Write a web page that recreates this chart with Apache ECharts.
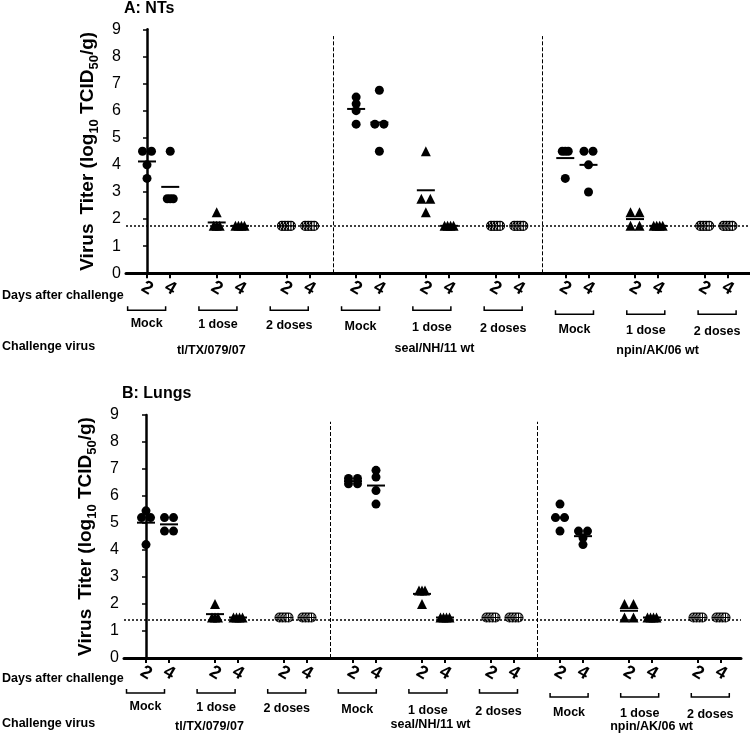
<!DOCTYPE html>
<html><head><meta charset="utf-8">
<script src="https://cdn.jsdelivr.net/npm/echarts@6/dist/echarts.min.js"></script>
<style>html,body{margin:0;padding:0;background:#fff}#c{width:750px;height:742px}</style>
</head><body><div id="c"></div>
<script>
// ---------- data ----------
const viruses = ['tl/TX/079/07', 'seal/NH/11 wt', 'npin/AK/06 wt'];
const treatments = ['Mock', '1 dose', '2 doses'];
const days = ['2', '4'];
const yTicks = [0, 1, 2, 3, 4, 5, 6, 7, 8, 9];
const panelTitles = ['A: NTs', 'B: Lungs'];

// groups in order: Mock d2, Mock d4, 1 dose d2, 1 dose d4, 2 doses d2, 2 doses d4
const ntsTl   = [[4.5, 4.5, 4.0, 3.5], [4.5, 2.75, 2.75, 2.75], [2.25, 1.75, 1.75, 1.75], [1.75, 1.75, 1.75, 1.75], [1.75, 1.75, 1.75, 1.75], [1.75, 1.75, 1.75, 1.75]];
const ntsSeal = [[6.25, 6.5, 6.0, 5.5], [6.75, 5.5, 5.5, 4.5], [4.5, 2.75, 2.75, 2.25], [1.75, 1.75, 1.75, 1.75], [1.75, 1.75, 1.75, 1.75], [1.75, 1.75, 1.75, 1.75]];
const ntsNpin = [[4.5, 4.5, 4.5, 3.5], [4.5, 4.5, 4.0, 3.0], [2.25, 2.25, 1.75, 1.75], [1.75, 1.75, 1.75, 1.75], [1.75, 1.75, 1.75, 1.75], [1.75, 1.75, 1.75, 1.75]];
const lungTl   = [[5.2, 5.2, 5.45, 4.2], [5.2, 5.2, 4.7, 4.7], [2.0, 1.5, 1.5, 1.5], [1.5, 1.5, 1.5, 1.5], [1.5, 1.5, 1.5, 1.5], [1.5, 1.5, 1.5, 1.5]];
const lungSeal = [[6.65, 6.65, 6.45, 6.45], [6.7, 6.95, 6.2, 5.7], [2.5, 2.5, 2.5, 2.0], [1.5, 1.5, 1.5, 1.5], [1.5, 1.5, 1.5, 1.5], [1.5, 1.5, 1.5, 1.5]];
const lungNpin = [[5.7, 5.2, 5.2, 4.7], [4.7, 4.7, 4.45, 4.2], [2.0, 2.0, 1.5, 1.5], [1.5, 1.5, 1.5, 1.5], [1.5, 1.5, 1.5, 1.5], [1.5, 1.5, 1.5, 1.5]];
const ntsDetectionLimit = 1.75;
const lungDetectionLimit = 1.42;
const separatorTop = 8.75;

// ---------- layout ----------
const FONT = '"Liberation Sans", Arial, Helvetica, sans-serif';
const panels = [
  { data: [ntsTl, ntsSeal, ntsNpin], lod: ntsDetectionLimit,
    grid: { left: 126, top: 29.3, width: 624, height: 244 }, xMin: -0.904, xMax: 25.95,
    off: { days: 22, bracket: 37, treat: 50, cv: 73, virus: 77 } },
  { data: [lungTl, lungSeal, lungNpin], lod: lungDetectionLimit,
    grid: { left: 124, top: 415, width: 617, height: 243 }, xMin: -0.957, xMax: 25.87,
    off: { days: 21, bracket: 35, treat: 49, cv: 66, virus: 69 } }
];

const HATCH = 'path://M5,0A5,5,0,1,1,5,10A5,5,0,1,1,5,0ZM5,0L5,10M0,5L10,5M2.2,1L2.2,9M7.8,1L7.8,9';
const symbolFor = ['circle', 'triangle', HATCH];

function spread(vals, unitPx) {
  const out = vals.map(() => 0);
  const groups = {};
  vals.forEach((v, i) => { const k = v.toFixed(2); (groups[k] = groups[k] || []).push(i); });
  Object.values(groups).forEach(idx => {
    const n = idx.length; if (n < 2) return;
    const sp = (n === 2 ? 9 : 3) / unitPx;
    idx.forEach((i, j) => { out[i] = (j - (n - 1) / 2) * sp; });
  });
  return out;
}

const grids = [], xAxes = [], yAxes = [], series = [];
panels.forEach((p, pi) => {
  grids.push(p.grid);
  const unitPx = p.grid.width / (p.xMax - p.xMin);
  const positions = [];
  const sym = [[], [], []];
  const means = [];
  p.data.forEach((groupsArr, v) => {
    groupsArr.forEach((vals, k) => {
      const t = Math.floor(k / 2), d = k % 2;
      const pos = (v * 3 + t) * 3 + d;
      positions.push(pos);
      const offs = spread(vals, unitPx);
      vals.forEach((y, i) => sym[t].push([pos + offs[i], y]));
      means.push([pos, vals.reduce((a, b) => a + b, 0) / vals.length]);
    });
  });
  xAxes.push({
    type: 'value', gridIndex: pi, min: p.xMin, max: p.xMax,
    splitLine: { show: false },
    axisLine: { show: true, lineStyle: { color: '#000', width: 3 } },
    axisTick: { show: true, customValues: positions, length: 5, lineStyle: { color: '#000', width: 2 } },
    axisLabel: {
      show: true, customValues: positions, rotate: -30, margin: 15,
      align: 'center', verticalAlign: 'middle',
      fontFamily: FONT, fontSize: 18, fontWeight: 'bold', color: '#000',
      formatter: v => days[Math.round(v) % 3]
    }
  });
  yAxes.push({
    type: 'value', gridIndex: pi, min: yTicks[0], max: yTicks[yTicks.length - 1], interval: 1,
    splitLine: { show: false },
    axisLine: { show: true, lineStyle: { color: '#000', width: 2.5 } },
    axisTick: { show: true, length: 4, lineStyle: { color: '#000', width: 1.5 } },
    axisLabel: { fontFamily: FONT, fontSize: 16, color: '#000', margin: 5 },
    name: '{a|Virus}{g| }{a|Titer (log}{s|10}{a| TCID}{s|50}{a|/g)}',
    nameLocation: 'middle', nameRotate: 90, nameGap: 23,
    nameTextStyle: {
      rich: {
        a: { fontFamily: FONT, fontSize: 19, fontWeight: 'bold', color: '#000', lineHeight: 26 },
        g: { fontFamily: FONT, fontSize: 19, width: 9, lineHeight: 26 },
        s: { fontFamily: FONT, fontSize: 13, fontWeight: 'bold', color: '#000', verticalAlign: 'bottom', lineHeight: 14 }
      }
    }
  });
  series.push({
    type: 'scatter', xAxisIndex: pi, yAxisIndex: pi, data: means, symbol: 'rect', symbolSize: [18, 2],
    itemStyle: { color: '#000', opacity: 1 }, silent: true, z: 2,
    markLine: {
      silent: true, symbol: ['none', 'none'], label: { show: false }, animation: false,
      data: [
        { yAxis: p.lod, lineStyle: { color: '#000', type: [2, 2], width: 1.5, opacity: 1 } },
        [{ coord: [8, 0] }, { coord: [8, separatorTop], lineStyle: { color: '#000', type: [4, 2], width: 1, opacity: 1 } }],
        [{ coord: [17, 0] }, { coord: [17, separatorTop], lineStyle: { color: '#000', type: [4, 2], width: 1, opacity: 1 } }]
      ]
    }
  });
  sym.forEach((pts, t) => {
    series.push({
      type: 'scatter', xAxisIndex: pi, yAxisIndex: pi, data: pts,
      symbol: symbolFor[t], symbolSize: t === 1 ? 10 : 9, silent: true, z: 3,
      itemStyle: t === 2 ? { color: '#fff', borderColor: '#000', borderWidth: 1.1, opacity: 1 } : { color: '#000', opacity: 1 }
    });
  });
});

const chart = echarts.init(document.getElementById('c'), null, { renderer: 'canvas' });
chart.setOption({
  animation: false, backgroundColor: '#fff',
  grid: grids, xAxis: xAxes, yAxis: yAxes, series: series
});

// ---------- annotations ----------
const gfx = [];
function txt(text, x, y, size, align) {
  gfx.push({ type: 'text', x: x, y: y, silent: true,
    style: { text: text, fill: '#000', fontFamily: FONT, fontSize: size, fontWeight: 'bold',
      align: align || 'center', textAlign: align || 'center', verticalAlign: 'middle', textVerticalAlign: 'middle' } });
}
panels.forEach((p, pi) => {
  const px = v => chart.convertToPixel({ gridIndex: pi }, [v, 0]);
  const axisY = px(0)[1];
  txt(panelTitles[pi], p.grid.left - 2, p.grid.top - 21, 16, 'left');
  txt('Days after challenge', 2, axisY + p.off.days, 12.5, 'left');
  txt('Challenge virus', 2, axisY + p.off.cv, 12.5, 'left');
  for (let g = 0; g < 9; g++) {
    const cx = px(g * 3 + 0.5)[0] - 12 + g * 1.6;
    const by = axisY + p.off.bracket + (g >= 6 ? 4 : 0);
    gfx.push({ type: 'polyline', silent: true,
      shape: { points: [[cx - 19, by - 4], [cx - 19, by], [cx + 19, by], [cx + 19, by - 4]] },
      style: { stroke: '#000', lineWidth: 1.5, fill: null } });
    txt(treatments[g % 3], cx, axisY + p.off.treat + g * 1.0, 12.5);
  }
  viruses.forEach((name, v) => {
    const cx = px(v * 9 + 3.5)[0] - 17 + v * 14;
    txt(name, cx, axisY + p.off.virus + (v === 1 ? -2 : 0), 12.5);
  });
});
chart.setOption({ graphic: gfx });
</script></body></html>
